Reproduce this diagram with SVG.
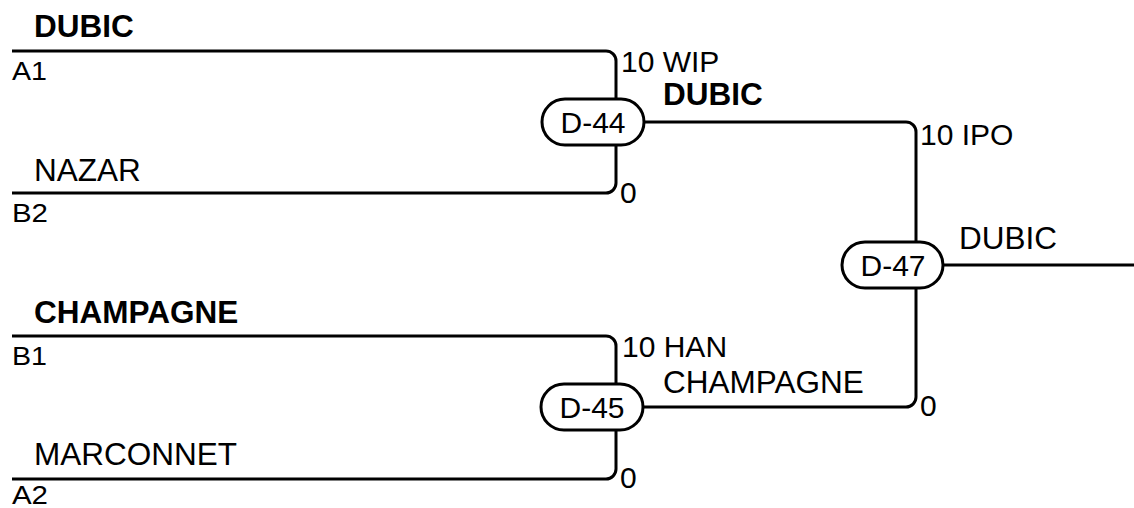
<svg xmlns="http://www.w3.org/2000/svg" width="1134" height="508" viewBox="0 0 1134 508">
<style>
.ln{fill:none;stroke:#000;stroke-width:3}
.pill{fill:#fff;stroke:#000;stroke-width:3}
text{font-family:"Liberation Sans",Arial,sans-serif;font-size:30px;fill:#000}
.t{font-size:31.5px}
.s{font-size:26px}
.b{font-weight:bold}
.c{text-anchor:middle}
</style>
<rect width="1134" height="508" fill="#fff"/>
<g id="connectors">
<path class="ln" d="M12,51 H606 A10,10 0 0 1 616,61 V99"/>
<path class="ln" d="M616,145 V183 A10,10 0 0 1 606,193 H12"/>
<path class="ln" d="M644,122 H906 A10,10 0 0 1 916,132 V242"/>
<path class="ln" d="M12,336 H606 A10,10 0 0 1 616,346 V384"/>
<path class="ln" d="M616,430 V469 A10,10 0 0 1 606,479 H12"/>
<path class="ln" d="M644,407 H906 A10,10 0 0 0 916,397 V288"/>
<path class="ln" d="M943,265 H1134"/>
</g>
<g id="seed-A1">
<text class="t b" x="34" y="37">DUBIC</text>
<text class="s" x="12" y="80" textLength="35" lengthAdjust="spacingAndGlyphs">A1</text>
</g>
<g id="seed-B2">
<text class="t" x="34" y="181">NAZAR</text>
<text class="s" x="12" y="222" textLength="36" lengthAdjust="spacingAndGlyphs">B2</text>
</g>
<g id="seed-B1">
<text class="t b" x="34" y="323">CHAMPAGNE</text>
<text class="s" x="12" y="365" textLength="35" lengthAdjust="spacingAndGlyphs">B1</text>
</g>
<g id="seed-A2">
<text class="t" x="34" y="465">MARCONNET</text>
<text class="s" x="12" y="504" textLength="36" lengthAdjust="spacingAndGlyphs">A2</text>
</g>
<g id="D-44">
<rect class="pill" x="542" y="99" width="102" height="46" rx="23"/>
<text class="c" x="593" y="133">D-44</text>
<text x="621" y="72">10 WIP</text>
<text x="620" y="203">0</text>
<text class="t b" x="663" y="105">DUBIC</text>
</g>
<g id="D-45">
<rect class="pill" x="541" y="384" width="102" height="46" rx="23"/>
<text class="c" x="592" y="418">D-45</text>
<text x="622" y="357">10 HAN</text>
<text x="620" y="488">0</text>
<text class="t" x="663" y="393">CHAMPAGNE</text>
</g>
<g id="D-47">
<rect class="pill" x="842" y="242" width="101" height="46" rx="23"/>
<text class="c" x="893" y="276">D-47</text>
<text x="920" y="145">10 IPO</text>
<text x="920" y="416">0</text>
<text class="t" x="959" y="249">DUBIC</text>
</g>
</svg>
